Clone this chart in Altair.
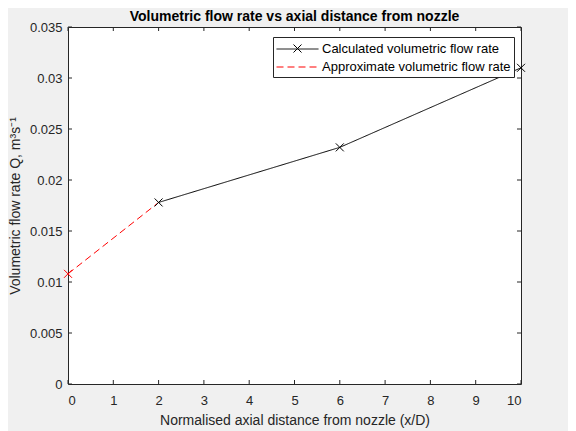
import altair as alt
import pandas as pd

# data
x_calc = [2, 6, 10]
q_calc = [0.0178, 0.0232, 0.0310]
x_approx = [0, 2]
q_approx = [0.0108, 0.0178]

x_ticks = [0, 1, 2, 3, 4, 5, 6, 7, 8, 9, 10]
y_ticks = [0, 0.005, 0.01, 0.015, 0.02, 0.025, 0.03, 0.035]

S_CALC = "Calculated volumetric flow rate"
S_APPROX = "Approximate volumetric flow rate"

lines_df = pd.DataFrame(
    {"x": x_calc + x_approx,
     "q": q_calc + q_approx,
     "series": [S_CALC] * len(x_calc) + [S_APPROX] * len(x_approx)}
)
calc_df = pd.DataFrame({"x": x_calc, "q": q_calc, "mk": ["x"] * len(x_calc)})
approx_pts_df = pd.DataFrame({"x": x_approx[:1], "q": q_approx[:1]})
xt_df = pd.DataFrame({"v": x_ticks})
yt_df = pd.DataFrame({"v": y_ticks})

W, H = 453, 357
FONT = "Liberation Sans"
AX = "#262626"
XMARK = "M-1,-1L1,1M-1,1L1,-1"
LINE = "M-1,0H3.94"

xscale = alt.Scale(domain=[0, 10], nice=False)
yscale = alt.Scale(domain=[0, 0.035], nice=False, zero=False)

x_axis = alt.Axis(values=x_ticks, format="d", grid=False, ticks=False, tickSize=0,
                  domain=False, labelPadding=10, labelFontSize=13, labelColor=AX,
                  labelFont=FONT, title="Normalised axial distance from nozzle (x/D)",
                  titleFont=FONT, titleFontSize=14, titleFontWeight="normal",
                  titleColor=AX, titlePadding=6)
y_axis = alt.Axis(values=y_ticks, format=".3~f", grid=False, ticks=False, tickSize=0,
                  domain=False, labelPadding=6, labelFontSize=13, labelColor=AX,
                  labelFont=FONT, title="Volumetric flow rate Q, m³s⁻¹",
                  titleFont=FONT, titleFontSize=14, titleFontWeight="normal",
                  titleColor=AX, titlePadding=7)

legend = alt.Legend(
    title=None, orient="none", legendX=205, legendY=10,
    fillColor="white", strokeColor=AX, padding=3,
    labelFont=FONT, labelFontSize=13, labelColor="black", labelOffset=28,
    labelLimit=400, symbolSize=289, symbolStrokeWidth=1, rowPadding=2,
    symbolType=LINE,
)

# overlay legend that only adds the x marker onto the first legend entry
mk_legend = alt.Legend(
    title=None, orient="none", legendX=225, legendY=17, padding=0,
    labelExpr="''", labelOffset=0, labelFontSize=1, symbolSize=64, symbolStrokeWidth=1,
    symbolStrokeColor="black", symbolFillColor="transparent", symbolType=XMARK,
)

lines = alt.Chart(lines_df).mark_line(strokeWidth=1).encode(
    x=alt.X("x:Q", scale=xscale, axis=x_axis),
    y=alt.Y("q:Q", scale=yscale, axis=y_axis),
    color=alt.Color("series:N", scale=alt.Scale(domain=[S_CALC, S_APPROX], range=["black", "red"]),
                    legend=legend),
    strokeDash=alt.StrokeDash("series:N", scale=alt.Scale(domain=[S_CALC, S_APPROX], range=[[1, 0], [7, 4]]),
                              legend=legend),
    order="x:Q",
)

pts_calc = alt.Chart(calc_df).mark_point(size=64, filled=False, strokeWidth=1,
                                         color="black", opacity=1).encode(
    x=alt.X("x:Q", scale=xscale), y=alt.Y("q:Q", scale=yscale),
    shape=alt.Shape("mk:N", scale=alt.Scale(domain=["x"], range=[XMARK]), legend=mk_legend))
pts_approx = alt.Chart(approx_pts_df).mark_point(shape=XMARK, size=64, filled=False, strokeWidth=1,
                                                 color="red", opacity=1).encode(
    x=alt.X("x:Q", scale=xscale), y=alt.Y("q:Q", scale=yscale))

TL = 4
tick_b = alt.Chart(xt_df).mark_rule(color=AX, strokeWidth=1).encode(
    x=alt.X("v:Q", scale=xscale), y=alt.value(H), y2=alt.value(H - TL))
tick_t = alt.Chart(xt_df).mark_rule(color=AX, strokeWidth=1).encode(
    x=alt.X("v:Q", scale=xscale), y=alt.value(0), y2=alt.value(TL))
tick_l = alt.Chart(yt_df).mark_rule(color=AX, strokeWidth=1).encode(
    y=alt.Y("v:Q", scale=yscale), x=alt.value(0), x2=alt.value(TL))
tick_r = alt.Chart(yt_df).mark_rule(color=AX, strokeWidth=1).encode(
    y=alt.Y("v:Q", scale=yscale), x=alt.value(W), x2=alt.value(W - TL))

chart = alt.layer(tick_b, tick_t, tick_l, tick_r, lines, pts_calc, pts_approx).properties(
    width=W, height=H,
    title=alt.TitleParams("Volumetric flow rate vs axial distance from nozzle",
                          font=FONT, fontSize=14, fontWeight="bold", color="black",
                          anchor="middle", frame="group", baseline="bottom", offset=6, dy=23),
    background="#f0f0f0",
    autosize=alt.AutoSizeParams(type="none"),
    padding={"left": 60, "top": 19, "right": 47, "bottom": 47},
).configure_view(fill="white", stroke=AX, strokeWidth=1)

chart.save("out.html", embed_options={"renderer": "svg", "actions": False})
